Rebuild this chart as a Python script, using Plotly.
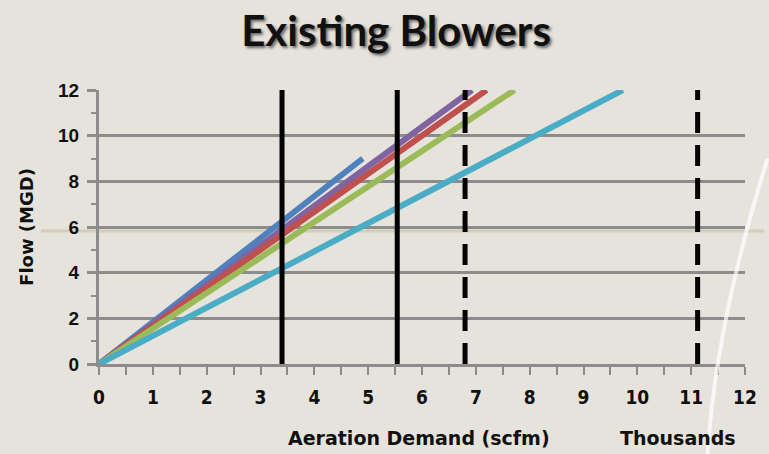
import plotly.graph_objects as go

# Flow vs. aeration demand for each blower curve (x in thousands of scfm, y in MGD)
series_names = ["Blower A", "Blower B", "Blower C", "Blower D", "Blower E"]
series_colors = ["#4f81bd", "#8064a2", "#c0504d", "#9bbb59", "#4bacc6"]
series_x = [[0, 4.9], [0, 6.93], [0, 7.2], [0, 7.72], [0, 9.73]]
series_y = [[0, 9.0], [0, 12.0], [0, 12.0], [0, 12.0], [0, 12.0]]

# Blower capacity markers (thousands of scfm)
solid_caps = [3.4, 5.54]
dashed_caps = [6.8, 11.12]
cap_range = [0, 12]

x_ticks = list(range(0, 13))
y_ticks = list(range(0, 13, 2))

bg = "#e6e3dc"
grid = "#8c8c8c"
bold_font = "Liberation Sans, Arial, sans-serif"
label_font = "DejaVu Sans, sans-serif"

fig = go.Figure()

for name, color, xs, ys in zip(series_names, series_colors, series_x, series_y):
    fig.add_trace(go.Scatter(x=xs, y=ys, mode="lines", name=name,
                             line=dict(color=color, width=6)))

for xc in solid_caps:
    fig.add_trace(go.Scatter(x=[xc, xc], y=cap_range, mode="lines",
                             line=dict(color="black", width=5), showlegend=False))
for xc in dashed_caps:
    fig.add_trace(go.Scatter(x=[xc, xc], y=cap_range, mode="lines",
                             line=dict(color="black", width=5, dash="21px,12px"),
                             showlegend=False))

# faint decorative horizontal stroke across the slide
fig.add_shape(type="line", xref="paper", yref="y", x0=-0.09, x1=1.03, y0=5.83, y1=5.83,
              line=dict(color="rgba(200,190,160,0.6)", width=3), layer="below")
# decorative white swoosh on the right
fig.add_shape(type="path", xref="paper", yref="paper",
              path="M 0.942 -0.33 Q 0.955 0.15 1.035 0.75",
              line=dict(color="rgba(255,255,255,0.7)", width=4), layer="above")

fig.update_layout(
    width=769, height=454,
    paper_bgcolor=bg, plot_bgcolor=bg,
    margin=dict(l=99, r=14, t=90, b=90),
    showlegend=False,
    title=dict(text="<b>Existing Blowers</b>", x=0.515, xanchor="center", y=0.93, yanchor="middle",
               font=dict(family="Lato, Open Sans, sans-serif", size=42, color="#111",
                         shadow="2px 2px 3px #666")),
    font=dict(family=bold_font, color="#111"),
)

fig.update_xaxes(
    range=[0, 12], tickvals=x_ticks, ticktext=[str(v) for v in x_ticks],
    showgrid=False, zeroline=False,
    showline=True, linecolor=grid, linewidth=3,
    ticks="outside", ticklen=8, tickwidth=2, tickcolor=grid,
    minor=dict(dtick=0.5, ticks="outside", ticklen=8, tickwidth=2, tickcolor=grid),
    tickfont=dict(size=19, family="DejaVu Sans Condensed, sans-serif", color="#111", weight="bold"),
    ticklabelstandoff=6,
)
fig.update_yaxes(
    range=[0, 12], tickvals=y_ticks, ticktext=[str(v) for v in y_ticks],
    showgrid=True, gridcolor=grid, gridwidth=3, zeroline=False,
    showline=True, linecolor=grid, linewidth=3,
    ticks="outside", ticklen=9, tickwidth=3, tickcolor=grid,
    minor=dict(dtick=1, ticks="outside", ticklen=5, tickwidth=2, tickcolor=grid, showgrid=False),
    tickfont=dict(size=19, family=bold_font, color="#111", weight="bold"),
    ticklabelstandoff=4,
    title=dict(text="Flow (MGD)", font=dict(size=18, family=label_font, weight="bold"),
               standoff=20),
)

fig.add_annotation(text="Aeration Demand (scfm)", xref="paper", yref="paper",
                   x=0.496, y=-0.27, xanchor="center", yanchor="middle", showarrow=False,
                   font=dict(size=19, family=label_font, color="#111", weight="bold"))
fig.add_annotation(text="Thousands", xref="paper", yref="paper",
                   x=0.897, y=-0.27, xanchor="center", yanchor="middle", showarrow=False,
                   font=dict(size=19, family=label_font, color="#111", weight="bold"))

fig.write_html("out.html")
